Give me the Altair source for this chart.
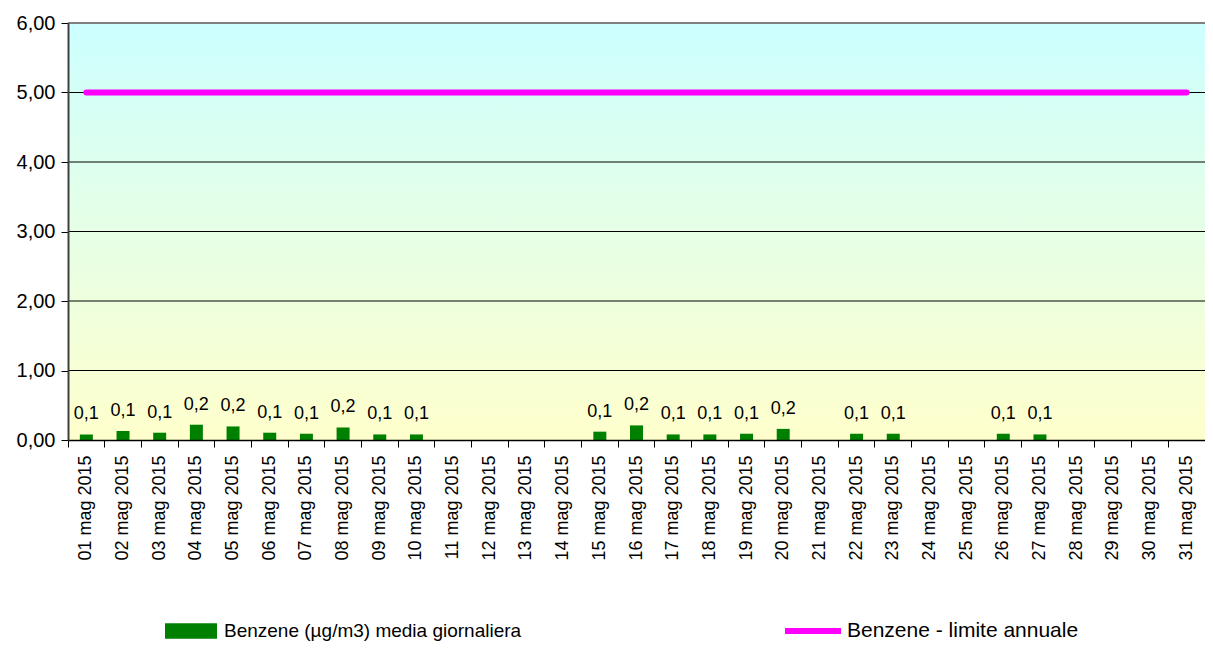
import altair as alt
import pandas as pd

dates = [f"{d:02d} mag 2015" for d in range(1, 32)]
benzene = [0.08, 0.13, 0.105, 0.22, 0.195, 0.105, 0.09, 0.18, 0.08, 0.08,
           None, None, None, None, 0.12, 0.21, 0.08, 0.08, 0.09, 0.16,
           None, 0.09, 0.09, None, None, 0.09, 0.08, None, None, None, None]
limite = [5.0] * 31
y_ticks = [0, 1, 2, 3, 4, 5, 6]
grid_values = [1, 2, 3, 4, 5]
top_value = [6]

bar_name = "Benzene (µg/m3) media giornaliera"
line_name = "Benzene - limite annuale"

labels = [("" if v is None else f"{v:.1f}".replace(".", ",")) for v in benzene]
df = pd.DataFrame({"date": dates, "value": benzene, "label": labels,
                   "limit": limite, "s1": bar_name, "s2": line_name})

FONT = "Liberation Sans"

xaxis = alt.Axis(title=None, labelAngle=270, tickSize=7, bandPosition=0,
                 labelPadding=8, domainColor="black", domainWidth=1.5,
                 tickColor="black", labelFontSize=18, labelColor="black",
                 grid=False, zindex=1, labelFont=FONT)
yaxis = alt.Axis(title=None, values=y_ticks,
                 labelExpr="replace(format(datum.value, '.2f'), '.', ',')",
                 tickSize=7, tickColor="black", domainColor="#404040",
                 domainWidth=2, labelFontSize=20, labelPadding=6,
                 labelColor="black", grid=False, zindex=1, labelFont=FONT)

xenc = alt.X("date:N", sort=dates, axis=xaxis,
             scale=alt.Scale(paddingInner=0, paddingOuter=0))
yscale = alt.Scale(domain=[0, 6], nice=False, zero=True)

bg = alt.Chart(pd.DataFrame({"k": [0]})).mark_rect(
    color=alt.Gradient(gradient="linear",
                       stops=[alt.GradientStop(color="#CCFFFF", offset=0),
                              alt.GradientStop(color="#E6FFE6", offset=0.5),
                              alt.GradientStop(color="#FFFFCC", offset=1)],
                       x1=0, x2=0, y1=0, y2=1)
).encode(x=alt.value(0), x2=alt.value("width"), y=alt.value(0), y2=alt.value("height"))

grid = alt.Chart(pd.DataFrame({"v": grid_values})).mark_rule(
    color="black", strokeWidth=1
).encode(y=alt.Y("v:Q", scale=yscale, axis=yaxis), x=alt.value(0), x2=alt.value("width"))

top = alt.Chart(pd.DataFrame({"v": top_value})).mark_rule(
    color="#808080", strokeWidth=2
).encode(y=alt.Y("v:Q", scale=yscale, axis=yaxis), x=alt.value(0), x2=alt.value("width"))

bars = alt.Chart(df).mark_bar(size=13).encode(
    x=xenc,
    y=alt.Y("value:Q", scale=yscale, axis=yaxis),
    color=alt.Color("s1:N", scale=alt.Scale(domain=[bar_name], range=["#008000"]),
                    legend=alt.Legend(title=None, orient="none", legendX=97, legendY=582,
                                      symbolType="M-1,-0.3H1V0.3H-1Z", symbolSize=2704,
                                      symbolStrokeWidth=0, labelFontSize=19, labelFont=FONT,
                                      labelColor="black", labelOffset=7, padding=0,
                                      labelLimit=600)),
)

line = alt.Chart(df).mark_line(strokeWidth=6, strokeCap="round").encode(
    x=xenc,
    y=alt.Y("limit:Q", scale=yscale, axis=yaxis),
    stroke=alt.Stroke("s2:N", scale=alt.Scale(domain=[line_name], range=["#FF00FF"]),
                      legend=alt.Legend(title=None, orient="none", legendX=714, legendY=577,
                                        symbolType="stroke", symbolSize=3136,
                                        symbolStrokeWidth=6, labelFontSize=21, labelFont=FONT,
                                        labelColor="black", labelOffset=3, padding=0,
                                        labelLimit=600)),
)

text = alt.Chart(df).transform_filter("datum.value != null").mark_text(
    baseline="alphabetic", dy=-15, fontSize=18, font=FONT, color="black"
).encode(
    x=xenc,
    y=alt.Y("value:Q", scale=yscale, axis=yaxis),
    text="label:N",
)

chart = alt.layer(bg, grid, top, bars, line, text).properties(
    width=1137, height=417,
    autosize=alt.AutoSizeParams(type="none"),
    padding={"left": 60, "top": 15, "right": 0, "bottom": 202},
).configure(font=FONT).configure_view(stroke=None)

chart.save("out.html", embed_options={"renderer": "svg", "actions": False})
